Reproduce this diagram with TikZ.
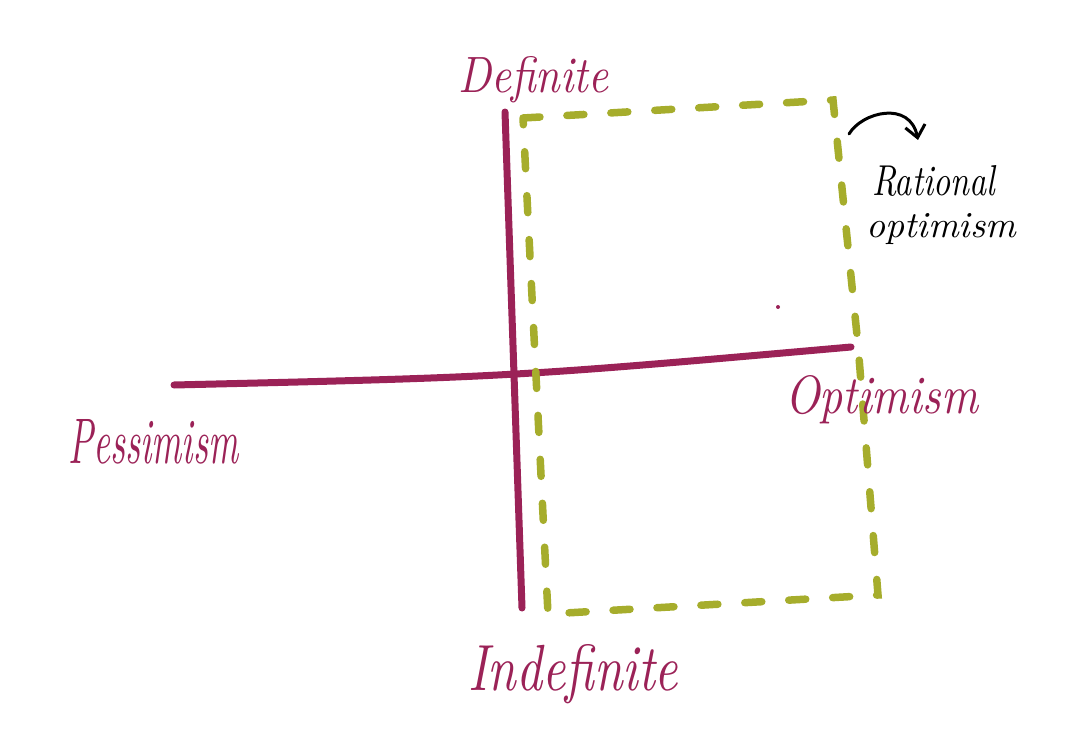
\documentclass[tikz,border=0pt]{standalone}
\usepackage{graphicx}
\usetikzlibrary{arrows.meta}
\definecolor{maroon}{HTML}{9B2257}
\definecolor{olive}{HTML}{A6AD2C}
\newcommand{\hw}[3]{\resizebox{#1}{#2}{\itshape #3}}
\tikzset{
  axis/.style={draw=maroon, line width=7pt, line cap=round},
  dashbox/.style={draw=olive, line width=7.5pt, line cap=round, dash pattern=on 17pt off 27pt},
  maroonlabel/.style={text=maroon, inner sep=0pt, anchor=base west},
  blacklabel/.style={text=black, inner sep=0pt, anchor=base west},
  pointer/.style={draw=black, line width=3pt, line cap=round, -{Straight Barb[length=12pt,width=20pt,line width=3pt]}}
}
\begin{document}
\begin{tikzpicture}[x=1pt,y=-1pt]
\useasboundingbox (0,0) rectangle (1091,730);
% axes endpoints
\coordinate (vtop) at (505,112);
\coordinate (vbot) at (522,608);
\coordinate (hleft) at (174,385);
\coordinate (hright) at (851,347);
\draw[axis] (vtop) -- (vbot);
\draw[axis] (hleft) .. controls (511,377) .. (hright);
% dashed region
\coordinate (tl) at (523,118);
\coordinate (tr) at (833,100);
\coordinate (mr) at (858,345);
\coordinate (br) at (878,595);
\coordinate (bl) at (548,614);
\draw[dashbox] (tl) -- (tr) -- (mr) -- (br) -- (bl) -- cycle;
% labels
\node[maroonlabel] (definite) at (458,93) {\hw{150pt}{36pt}{Definite}};
\node[maroonlabel] (indefinite) at (468,690) {\hw{210pt}{46pt}{Indefinite}};
\node[maroonlabel] (pessimism) at (68,463) {\hw{170pt}{44pt}{Pessimism}};
\node[maroonlabel] (optimism) at (785,413) {\hw{193pt}{38pt}{Optimism}};
\node[blacklabel] (rational) at (872,196) {\hw{123pt}{30pt}{Rational}};
\node[blacklabel] (optimismb) at (866,237) {\hw{150pt}{24pt}{optimism}};
% pointer arrow
\coordinate (pstart) at (849,134);
\coordinate (pend) at (918,140);
\draw[pointer] (pstart) .. controls (862,112) and (910,100) .. (pend);
% stray dot
\fill[maroon] (778,307) circle (2pt);
\end{tikzpicture}
\end{document}
